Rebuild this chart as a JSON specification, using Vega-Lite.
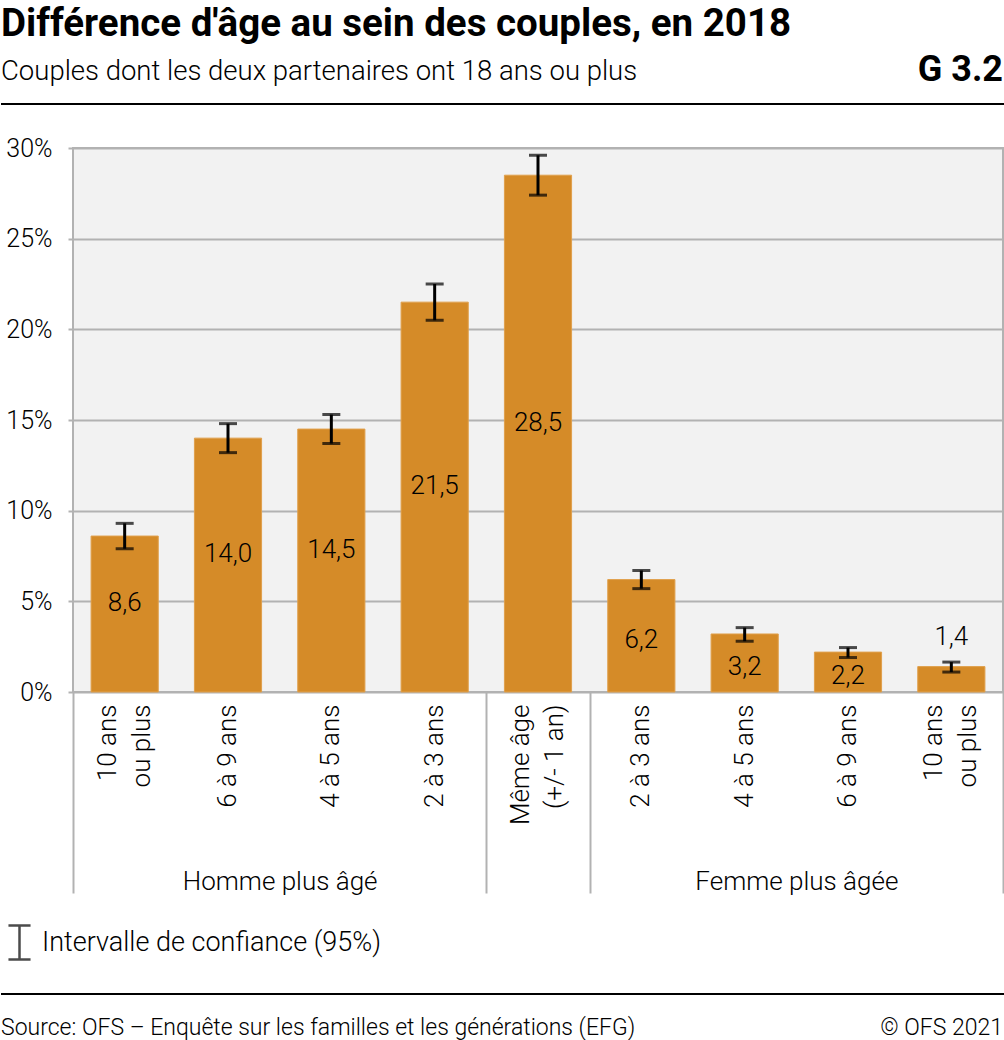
{
  "$schema": "https://vega.github.io/schema/vega-lite/v6.json",
  "padding": 0,
  "background": "white",
  "config": {"font": "Roboto", "concat": {"spacing": 0}, "view": {"stroke": null}},
  "datasets": {
    "ecarts": [
      {"groupe": "Homme plus âgé", "cat": "H|10 ans|ou plus", "valeur": 8.6, "bas": 7.9, "haut": 9.3},
      {"groupe": "Homme plus âgé", "cat": "H|6 à 9 ans", "valeur": 14.0, "bas": 13.2, "haut": 14.8},
      {"groupe": "Homme plus âgé", "cat": "H|4 à 5 ans", "valeur": 14.5, "bas": 13.7, "haut": 15.3},
      {"groupe": "Homme plus âgé", "cat": "H|2 à 3 ans", "valeur": 21.5, "bas": 20.5, "haut": 22.5},
      {"groupe": "Même âge", "cat": "M|Même âge|(+/- 1 an)", "valeur": 28.5, "bas": 27.4, "haut": 29.6},
      {"groupe": "Femme plus âgée", "cat": "F|2 à 3 ans", "valeur": 6.2, "bas": 5.7, "haut": 6.7},
      {"groupe": "Femme plus âgée", "cat": "F|4 à 5 ans", "valeur": 3.2, "bas": 2.8, "haut": 3.55},
      {"groupe": "Femme plus âgée", "cat": "F|6 à 9 ans", "valeur": 2.2, "bas": 1.9, "haut": 2.45},
      {"groupe": "Femme plus âgée", "cat": "F|10 ans|ou plus", "valeur": 1.4, "bas": 1.1, "haut": 1.65}
    ],
    "entete": [
      {"role": "titre", "texte": "Différence d'âge au sein des couples, en 2018"},
      {"role": "soustitre", "texte": "Couples dont les deux partenaires ont 18 ans ou plus"},
      {"role": "numero", "texte": "G 3.2"}
    ],
    "pied": [
      {"role": "source", "texte": "Source: OFS – Enquête sur les familles et les générations (EFG)"},
      {"role": "copyright", "texte": "© OFS 2021"}
    ]
  },
  "resolve": {"legend": {"color": "independent"}},
  "vconcat": [
    {
      "width": 930,
      "height": 135,
      "data": {"name": "entete"},
      "layer": [
        {
          "transform": [{"filter": "datum.role == 'titre'"}],
          "mark": {"type": "text", "align": "left", "baseline": "alphabetic", "fontSize": 38.5, "fontWeight": "bold", "color": "#000"},
          "encoding": {
            "text": {"field": "texte"},
            "x": {"datum": 0, "type": "quantitative", "scale": {"domain": [0, 1], "range": [-72, 932]}, "axis": null},
            "y": {"datum": 0.27, "type": "quantitative", "scale": {"domain": [0, 1], "reverse": true}, "axis": null}
          }
        },
        {
          "transform": [{"filter": "datum.role == 'soustitre'"}],
          "mark": {"type": "text", "align": "left", "baseline": "alphabetic", "fontSize": 27.5, "fontWeight": 300, "color": "#000"},
          "encoding": {
            "text": {"field": "texte"},
            "x": {"datum": 0, "type": "quantitative"},
            "y": {"datum": 0.593, "type": "quantitative"}
          }
        },
        {
          "transform": [{"filter": "datum.role == 'numero'"}],
          "mark": {"type": "text", "align": "right", "baseline": "alphabetic", "fontSize": 36, "fontWeight": "bold", "color": "#000"},
          "encoding": {
            "text": {"field": "texte"},
            "x": {"datum": 0.998, "type": "quantitative"},
            "y": {"datum": 0.6, "type": "quantitative"}
          }
        },
        {
          "mark": {"type": "rule", "color": "#000", "strokeWidth": 2},
          "encoding": {
            "x": {"datum": 0, "type": "quantitative"},
            "x2": {"datum": 1},
            "y": {"datum": 0.77, "type": "quantitative"}
          }
        }
      ]
    },
    {
      "width": 930,
      "height": 544,
      "data": {"name": "ecarts"},
      "view": {"fill": "#f2f2f2", "stroke": "#b2b2b2", "strokeWidth": 2},
      "transform": [
        {"window": [{"op": "row_number", "as": "rang"}]},
        {"calculate": "datum.rang - 0.5", "as": "pos"},
        {"calculate": "datum.valeur / 2", "as": "milieu"},
        {"calculate": "replace(format(datum.valeur, '.1f'), '.', ',')", "as": "etiquette"}
      ],
      "layer": [
        {
          "mark": {"type": "bar", "color": "#d58b28", "stroke": "#e0a04c", "strokeWidth": 1},
          "encoding": {
            "x": {
              "field": "cat", "type": "nominal", "sort": null,
              "scale": {"paddingInner": 0.35, "paddingOuter": 0.175},
              "axis": {
                "orient": "bottom", "title": null,
                "labelExpr": "slice(split(datum.label, '|'), 1)",
                "labelAngle": 270, "labelAlign": "right", "labelBaseline": "middle",
                "labelOffset": {"condition": {"test": "length(split(datum.value, '|')) > 2", "value": -17}, "value": 0},
                "labelPadding": 12, "labelFontSize": 26, "labelFontWeight": 300, "labelColor": "#000",
                "labelLineHeight": 34, "ticks": false, "domain": false, "grid": false,
                "labelOverlap": false, "labelLimit": 0
              }
            },
            "y": {
              "field": "valeur", "type": "quantitative",
              "scale": {"domain": [0, 30], "nice": false},
              "axis": {
                "title": null, "values": [0, 5, 10, 15, 20, 25, 30],
                "labelExpr": "datum.value + '%'", "labelFontSize": 25, "labelFontWeight": 300,
                "labelColor": "#000", "labelPadding": 16, "tickSize": 5, "tickColor": "#b2b2b2",
                "tickWidth": 2, "gridColor": "#b2b2b2", "gridWidth": 2, "domain": false
              }
            }
          }
        },
        {
          "mark": {"type": "errorbar", "thickness": 3, "ticks": {"size": 18}},
          "encoding": {
            "x": {"field": "pos", "type": "quantitative", "scale": {"domain": [0, 9], "nice": false, "zero": false}, "axis": null},
            "y": {"field": "bas", "type": "quantitative"},
            "y2": {"field": "haut"},
            "color": {
              "datum": "Intervalle de confiance (95%)",
              "scale": {"range": ["#000"]},
              "legend": {
                "orient": "none", "legendX": -72, "legendY": 776, "title": null,
                "symbolType": "M-0.65,-1H0.65M0,-1V1M-0.65,1H0.65",
                "symbolSize": 1156, "symbolStrokeWidth": 2.5, "symbolStrokeColor": "#000",
                "symbolFillColor": "transparent", "labelFontSize": 27, "labelFontWeight": 300,
                "labelColor": "#000", "labelOffset": 4, "padding": 0, "labelLimit": 0
              }
            }
          }
        },
        {
          "transform": [{"filter": "datum.valeur >= 7"}],
          "mark": {"type": "text", "fontSize": 26, "fontWeight": 300, "color": "#000", "baseline": "middle", "dy": -11},
          "encoding": {
            "x": {
              "field": "pos", "type": "quantitative", "scale": {"domain": [0, 9], "nice": false, "zero": false},
              "axis": {
                "orient": "bottom", "title": null, "values": [0, 4, 5, 9], "labels": false,
                "ticks": true, "tickSize": 201, "tickColor": "#b2b2b2", "tickWidth": 2,
                "domain": false, "grid": false
              }
            },
            "y": {"field": "milieu", "type": "quantitative"},
            "text": {"field": "etiquette"}
          }
        },
        {
          "transform": [{"filter": "datum.valeur >= 2 && datum.valeur < 7"}],
          "mark": {"type": "text", "fontSize": 26, "fontWeight": 300, "color": "#000", "baseline": "middle", "dy": 4},
          "encoding": {
            "x": {"field": "pos", "type": "quantitative", "scale": {"domain": [0, 9], "nice": false, "zero": false}, "axis": null},
            "y": {"field": "milieu", "type": "quantitative"},
            "text": {"field": "etiquette"}
          }
        },
        {
          "transform": [{"filter": "datum.valeur < 2"}],
          "mark": {"type": "text", "fontSize": 26, "fontWeight": 300, "color": "#000", "baseline": "alphabetic", "dy": -17},
          "encoding": {
            "x": {
              "field": "pos", "type": "quantitative", "scale": {"domain": [0, 9], "nice": false, "zero": false},
              "axis": {
                "orient": "bottom", "title": null, "values": [2, 7],
                "labelExpr": "datum.value == 2 ? 'Homme plus âgé' : 'Femme plus âgée'",
                "ticks": false, "domain": false, "grid": false, "labelPadding": 176,
                "labelFontSize": 26, "labelFontWeight": 300, "labelColor": "#000",
                "labelFlush": false, "labelLimit": 0, "labelOverlap": false
              }
            },
            "y": {"field": "haut", "type": "quantitative"},
            "text": {"field": "etiquette"}
          }
        }
      ],
      "resolve": {"scale": {"x": "independent"}, "axis": {"x": "independent"}}
    },
    {
      "width": 930,
      "height": 75,
      "data": {"name": "pied"},
      "layer": [
        {
          "mark": {"type": "rule", "color": "#000", "strokeWidth": 2},
          "encoding": {
            "x": {"datum": 0, "type": "quantitative", "scale": {"domain": [0, 1], "range": [-72, 932]}, "axis": null},
            "x2": {"datum": 1},
            "y": {"datum": 0.373, "type": "quantitative", "scale": {"domain": [0, 1], "reverse": true}, "axis": null}
          }
        },
        {
          "transform": [{"filter": "datum.role == 'source'"}],
          "mark": {"type": "text", "align": "left", "baseline": "alphabetic", "fontSize": 23, "fontWeight": 300, "color": "#000"},
          "encoding": {
            "text": {"field": "texte"},
            "x": {"datum": 0, "type": "quantitative"},
            "y": {"datum": 0.92, "type": "quantitative"}
          }
        },
        {
          "transform": [{"filter": "datum.role == 'copyright'"}],
          "mark": {"type": "text", "align": "right", "baseline": "alphabetic", "fontSize": 23, "fontWeight": 300, "color": "#000"},
          "encoding": {
            "text": {"field": "texte"},
            "x": {"datum": 0.998, "type": "quantitative"},
            "y": {"datum": 0.92, "type": "quantitative"}
          }
        }
      ]
    }
  ]
}
